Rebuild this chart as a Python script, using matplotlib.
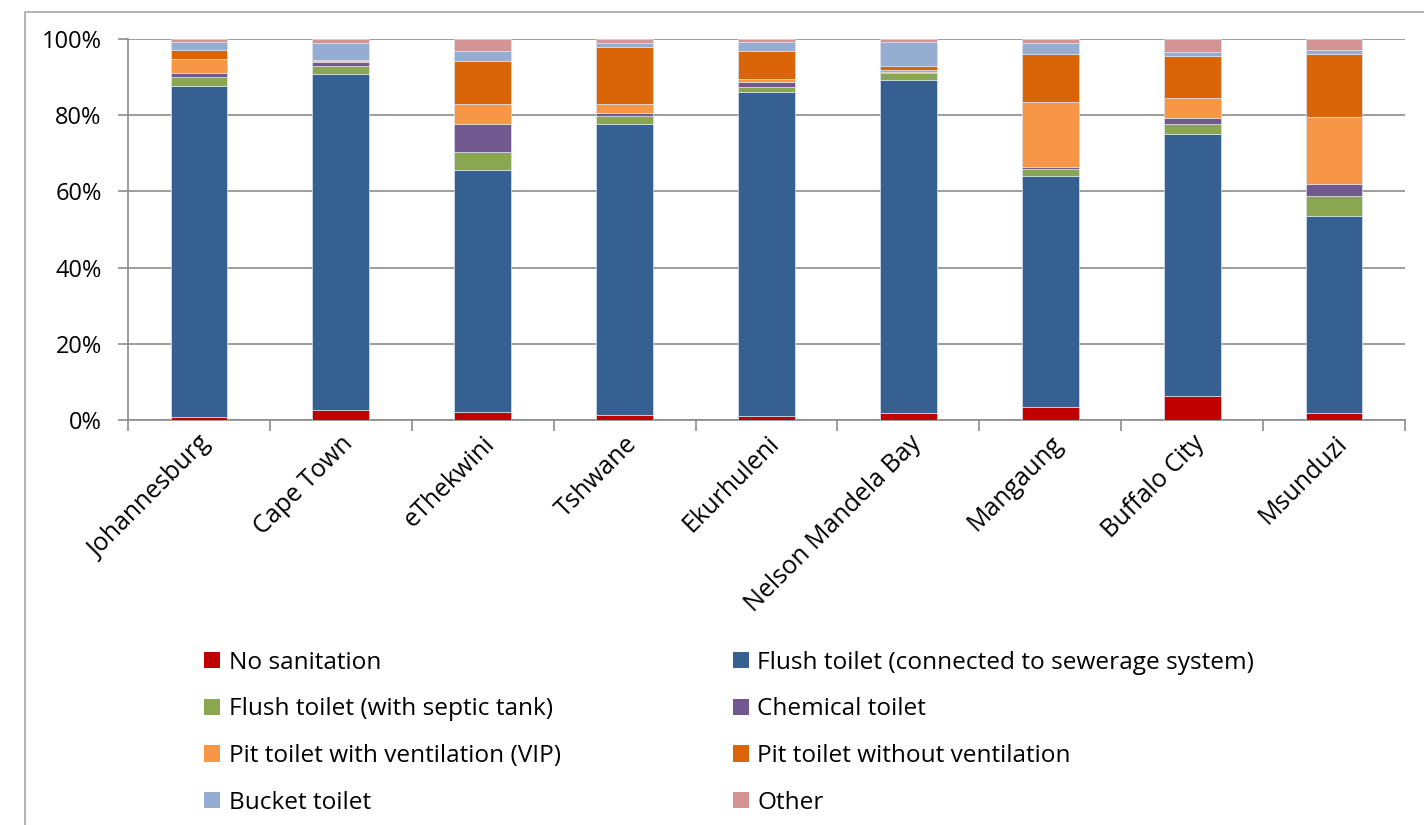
import numpy as np
import matplotlib
matplotlib.use("Agg")
import matplotlib.pyplot as plt
from matplotlib.lines import Line2D
from matplotlib.patches import Patch
from matplotlib.ticker import PercentFormatter

plt.rcParams['font.family'] = ['Open Sans', 'DejaVu Sans']

# Data (percent of households)
cities = ['Johannesburg', 'Cape Town', 'eThekwini', 'Tshwane', 'Ekurhuleni',
          'Nelson Mandela Bay', 'Mangaung', 'Buffalo City', 'Msunduzi']

no_sanitation = [0.7, 2.6, 2.0, 1.2, 1.1, 1.8, 3.3, 6.3, 1.9]
flush_sewer = [87.0, 88.3, 63.5, 76.6, 84.9, 87.4, 60.8, 68.9, 51.7]
flush_septic = [2.4, 2.0, 4.9, 2.1, 1.3, 2.0, 1.9, 2.4, 5.2]
chemical = [1.0, 1.1, 7.3, 0.7, 1.4, 0.1, 0.4, 1.6, 3.1]
pit_vip = [3.6, 0.3, 5.2, 2.4, 0.8, 0.5, 17.2, 5.3, 17.6]
pit_no_vent = [2.4, 0.2, 11.3, 15.0, 7.3, 1.0, 12.4, 11.0, 16.6]
bucket = [2.1, 4.5, 2.7, 1.0, 2.3, 6.3, 2.9, 1.2, 1.1]
other = [0.8, 1.0, 3.1, 1.0, 0.9, 0.9, 1.1, 3.3, 2.8]

series = [
    ('No sanitation', no_sanitation, '#C00000'),
    ('Flush toilet (connected to sewerage system)', flush_sewer, '#366092'),
    ('Flush toilet (with septic tank)', flush_septic, '#8BA650'),
    ('Chemical toilet', chemical, '#71588F'),
    ('Pit toilet with ventilation (VIP)', pit_vip, '#F79646'),
    ('Pit toilet without ventilation', pit_no_vent, '#DA6508'),
    ('Bucket toilet', bucket, '#95ADD3'),
    ('Other', other, '#D59493'),
]

fig = plt.figure(figsize=(14.24, 8.25), dpi=100)
ax = fig.add_axes([0.0899, 0.4909, 0.8968, 0.4618])

x = np.arange(len(cities))
bottom = np.zeros(len(cities))
handles = []
for name, vals, color in series:
    vals = np.array(vals)
    ax.bar(x, vals, 0.4, bottom=bottom, color=color, edgecolor='#DCE3EE',
           linewidth=0.5, zorder=3)
    bottom += vals
    handles.append(Patch(facecolor=color, edgecolor='none', label=name))

ax.set_xlim(-0.5, len(cities) - 0.5)
ax.set_ylim(0, 100)
ax.set_yticks(np.arange(0, 101, 20))
ax.yaxis.set_major_formatter(PercentFormatter(decimals=0))
ax.yaxis.grid(True, color='#8C8C8C', linewidth=1.2, zorder=0)

# category ticks at boundaries
ax.set_xticks(x)
ax.set_xticklabels(cities, rotation=45, ha='right', rotation_mode='anchor',
                   fontsize=18)
ax.tick_params(axis='x', length=0, pad=8)
ax.set_xticks(np.arange(-0.5, len(cities)), minor=True)
ax.tick_params(axis='x', which='minor', length=8, color='#8C8C8C', width=1.2)
ax.tick_params(axis='y', length=7, color='#8C8C8C', width=1.2, labelsize=17,
               pad=12)

for s in ['top', 'right']:
    ax.spines[s].set_visible(False)
for s in ['left', 'bottom']:
    ax.spines[s].set_color('#8C8C8C')
    ax.spines[s].set_linewidth(1.2)

# legend: row-wise order in two columns
order = [0, 2, 4, 6, 1, 3, 5, 7]
fig.legend([handles[i] for i in order], [series[i][0] for i in order],
           ncol=2, loc='upper left', bbox_to_anchor=(0.128, 0.238),
           frameon=False, fontsize=17.6, handlelength=0.65, handleheight=0.65,
           handletextpad=0.35, labelspacing=0.93, columnspacing=7.05)

# outer chart border (top and left)
fig.add_artist(Line2D([25 / 1424, 25 / 1424, 1.0], [0.0, 1 - 12 / 825, 1 - 12 / 825],
                      color='#A6A6A6', linewidth=1.2, transform=fig.transFigure))

fig.savefig('out.png', dpi=100)
